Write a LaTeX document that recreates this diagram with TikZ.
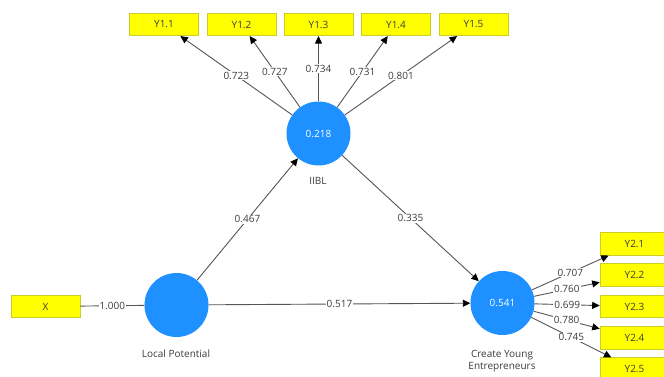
\documentclass[tikz,border=0pt]{standalone}
\usepackage{fontspec}
\setmainfont{Open Sans}
\usetikzlibrary{arrows.meta}
\definecolor{plsblue}{RGB}{30,144,255}
\definecolor{plsyellow}{RGB}{255,255,0}
\definecolor{plsborder}{RGB}{205,205,40}
\definecolor{plsline}{RGB}{85,85,85}
\definecolor{plstext}{RGB}{60,60,60}
\tikzset{
  ind/.style={rectangle, fill=plsyellow, draw=plsborder, line width=0.6pt,
    minimum width=69pt, minimum height=22.5pt, inner sep=0pt,
    font=\fontsize{10}{11}\selectfont, text=plstext},
  lat/.style={circle, fill=plsblue, draw=none, minimum size=64pt, inner sep=0pt,
    font=\fontsize{10}{11}\selectfont, text=white},
  latlabel/.style={font=\fontsize{10}{12}\selectfont, text=plstext, align=center},
  conn/.style={draw=plsline, line width=0.9pt, -{Triangle[length=7.5pt,width=7pt,color=black]}},
  plainline/.style={draw=plsline, line width=0.9pt},
  coef/.style={fill=white, inner sep=1pt, font=\fontsize{10}{11}\selectfont, text=plstext}
}
\begin{document}
\begin{tikzpicture}[x=1pt,y=-1pt]
\useasboundingbox (0,0) rectangle (664,377);
\clip (0,0) rectangle (664,377);
\fill[white] (0,0) rectangle (664,377);
% latent variables
\node[lat] (iibl) at (318.5,133.5) {0.218};
\node[lat] (lp) at (176.5,305) {};
\node[lat] (cye) at (502.5,303) {0.541};
\node[latlabel] (iiblname) at (318,181) {IIBL};
\node[latlabel] (lpname) at (176,354) {Local Potential};
\node[latlabel] (cyename) at (502,361) {Create Young\\Entrepreneurs};
% indicators
\node[ind] (y11) at (164,24.5) {Y1.1};
\node[ind] (y12) at (241.5,24.5) {Y1.2};
\node[ind] (y13) at (318.5,24.5) {Y1.3};
\node[ind] (y14) at (396,24.5) {Y1.4};
\node[ind] (y15) at (473.5,24.5) {Y1.5};
\node[ind] (x) at (45.5,306.5) {X};
\node[ind] (y21) at (634.5,244) {Y2.1};
\node[ind] (y22) at (634.5,275) {Y2.2};
\node[ind] (y23) at (634.5,306.5) {Y2.3};
\node[ind] (y24) at (634.5,338) {Y2.4};
\node[ind] (y25) at (634.5,369) {Y2.5};
% outer loadings
\draw[conn] (iibl) -- node[coef] {0.723} (y11);
\draw[conn] (iibl) -- node[coef] {0.727} (y12);
\draw[conn] (iibl) -- node[coef] {0.734} (y13);
\draw[conn] (iibl) -- node[coef] {0.731} (y14);
\draw[conn] (iibl) -- node[coef] {0.801} (y15);
\draw[plainline] (x) -- node[coef] {1.000} (lp);
\draw[conn] (cye) -- node[coef] {0.707} (y21);
\draw[conn] (cye) -- node[coef] {0.760} (y22);
\draw[conn] (cye) -- node[coef] {0.699} (y23);
\draw[conn] (cye) -- node[coef] {0.780} (y24);
\draw[conn] (cye) -- node[coef] {0.745} (y25);
% paths
\draw[conn] (lp) -- node[coef] {0.467} (iibl);
\draw[conn] (iibl) -- node[coef] {0.335} (cye);
\draw[conn] (lp) -- node[coef] {0.517} (cye);
\end{tikzpicture}
\end{document}
